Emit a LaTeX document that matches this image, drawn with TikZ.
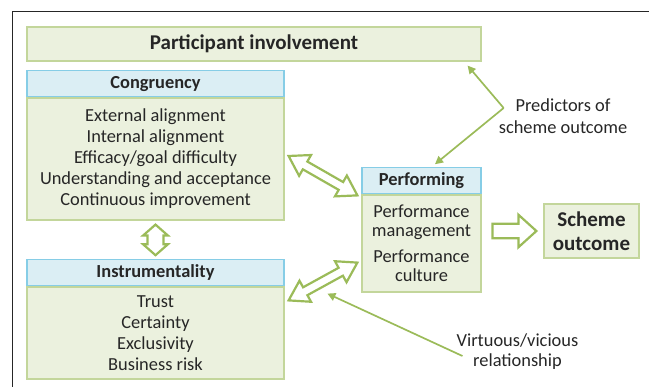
\documentclass[tikz,border=0pt]{standalone}
\usepackage{fontspec}
\setmainfont{Carlito}
\usepackage{xcolor}
\usetikzlibrary{positioning,calc,arrows.meta}
\definecolor{boxgreen}{HTML}{EBF1DE}
\definecolor{edgegreen}{HTML}{C3D69B}
\definecolor{headblue}{HTML}{DBEEF4}
\definecolor{edgeblue}{HTML}{86CDE6}
\definecolor{arrowgreen}{HTML}{9BBB59}
\definecolor{txtgray}{HTML}{262626}
\newcommand{\bodyfont}{\fontsize{18.4}{21}\selectfont}
\newcommand{\boldfont}{\fontsize{21}{24}\selectfont\bfseries}
% hollow double block arrow: ends, head length, head half width, shaft half width
\newcommand{\dblarrow}[5]{%
  \draw[blockarr] (#1)
    -- ($(#1)!#3!(#2)!#4!90:(#2)$) -- ($(#1)!#3!(#2)!#5!90:(#2)$)
    -- ($(#2)!#3!(#1)!#5!-90:(#1)$) -- ($(#2)!#3!(#1)!#4!-90:(#1)$)
    -- (#2)
    -- ($(#2)!#3!(#1)!#4!90:(#1)$) -- ($(#2)!#3!(#1)!#5!90:(#1)$)
    -- ($(#1)!#3!(#2)!#5!-90:(#2)$) -- ($(#1)!#3!(#2)!#4!-90:(#2)$)
    -- cycle;}
% hollow single block arrow
\newcommand{\onearrow}[5]{%
  \draw[blockarr] ($(#1)!#5!90:(#2)$)
    -- ($(#2)!#3!(#1)!#5!-90:(#1)$) -- ($(#2)!#3!(#1)!#4!-90:(#1)$)
    -- (#2)
    -- ($(#2)!#3!(#1)!#4!90:(#1)$) -- ($(#2)!#3!(#1)!#5!90:(#1)$)
    -- ($(#1)!#5!-90:(#2)$) -- cycle;}

\begin{document}
\begin{tikzpicture}[
    x=1pt, y=-1pt,
    every node/.style={text=txtgray},
    gbox/.style={rectangle, draw=edgegreen, fill=boxgreen, line width=1.2pt,
                 align=center, inner sep=0pt, font=\bodyfont},
    hbox/.style={rectangle, draw=edgeblue, fill=headblue, line width=1.2pt,
                 minimum height=26pt, inner sep=0pt, font=\bodyfont\bfseries},
    note/.style={align=center, inner sep=0pt, font=\bodyfont},
    blockarr/.style={draw=arrowgreen, fill=white, line width=2.2pt, line join=miter},
    thinarr/.style={-{Triangle[length=8pt,width=8pt]}, arrowgreen, line width=1.7pt},
    frameline/.style={draw=black!85, line width=1pt}
]
\useasboundingbox (0,0) rectangle (649,387);
\draw[frameline] (649,12) -- (12,12) -- (12,387);

\node[gbox, minimum width=454pt, minimum height=34pt, font=\boldfont] (invol) at (254,44)
    {Participant involvement};

\node[gbox, minimum width=257pt, minimum height=122pt] (congbody) at (155.5,159)
    {External alignment\\Internal alignment\\Efficacy/goal difficulty\\Understanding and acceptance\\Continuous improvement};
\node[hbox, minimum width=257pt, above=0pt of congbody] (conghead) {Congruency};

\node[gbox, minimum width=257pt, minimum height=92pt] (instrbody) at (155.5,333)
    {Trust\\Certainty\\Exclusivity\\Business risk};
\node[hbox, minimum width=257pt, above=0pt of instrbody] (instrhead) {Instrumentality};

\node[gbox, minimum width=119pt, minimum height=97pt, font=\fontsize{18.4}{19}\selectfont] (perfbody) at (421.5,243.5)
    {Performance\\management\\[7pt]Performance\\culture};
\node[hbox, minimum width=119pt, above=0pt of perfbody] (perfhead) {Performing};

\node[gbox, minimum width=95pt, minimum height=54pt, font=\boldfont] (scheme) at (591.5,231)
    {Scheme\\outcome};

\node[note, font=\fontsize{18.4}{22}\selectfont] (pred) at (563,116) {Predictors of\\scheme outcome};
\node[note, font=\fontsize{18.4}{20}\selectfont] (virt) at (517.5,352) {Virtuous/vicious\\relationship};

% block arrows
\coordinate (cpA) at ([shift={(4,-3)}]congbody.east);
\coordinate (cpB) at ([shift={(-4,1)}]perfbody.north west);
\coordinate (ipA) at ([shift={(4,14)}]instrbody.north east);
\coordinate (ipB) at ([shift={(-4,-30)}]perfbody.south west);
\coordinate (ciA) at ([shift={(0,4)}]congbody.south);
\coordinate (ciB) at ([shift={(0,-4)}]instrhead.north);
\coordinate (soA) at ([shift={(-51,0)}]scheme.west);
\coordinate (soB) at ([shift={(-7,0)}]scheme.west);
\dblarrow{cpA}{cpB}{19pt}{12pt}{4.5pt}
\dblarrow{ipA}{ipB}{19pt}{12pt}{4.5pt}
\dblarrow{ciA}{ciB}{11pt}{12.5pt}{8pt}
\onearrow{soA}{soB}{18pt}{16.3pt}{7.3pt}

% label pointers
\coordinate (predv) at ([shift={(5,-8)}]pred.west);
\draw[thinarr] (predv) -- ([shift={(-14,4)}]invol.south east);
\draw[thinarr] (predv) -- ([shift={(13.5,-3)}]perfhead.north);
\draw[thinarr] ([shift={(6,4)}]virt.west) -- ([shift={(-34,1)}]perfbody.south west);
\end{tikzpicture}
\end{document}
